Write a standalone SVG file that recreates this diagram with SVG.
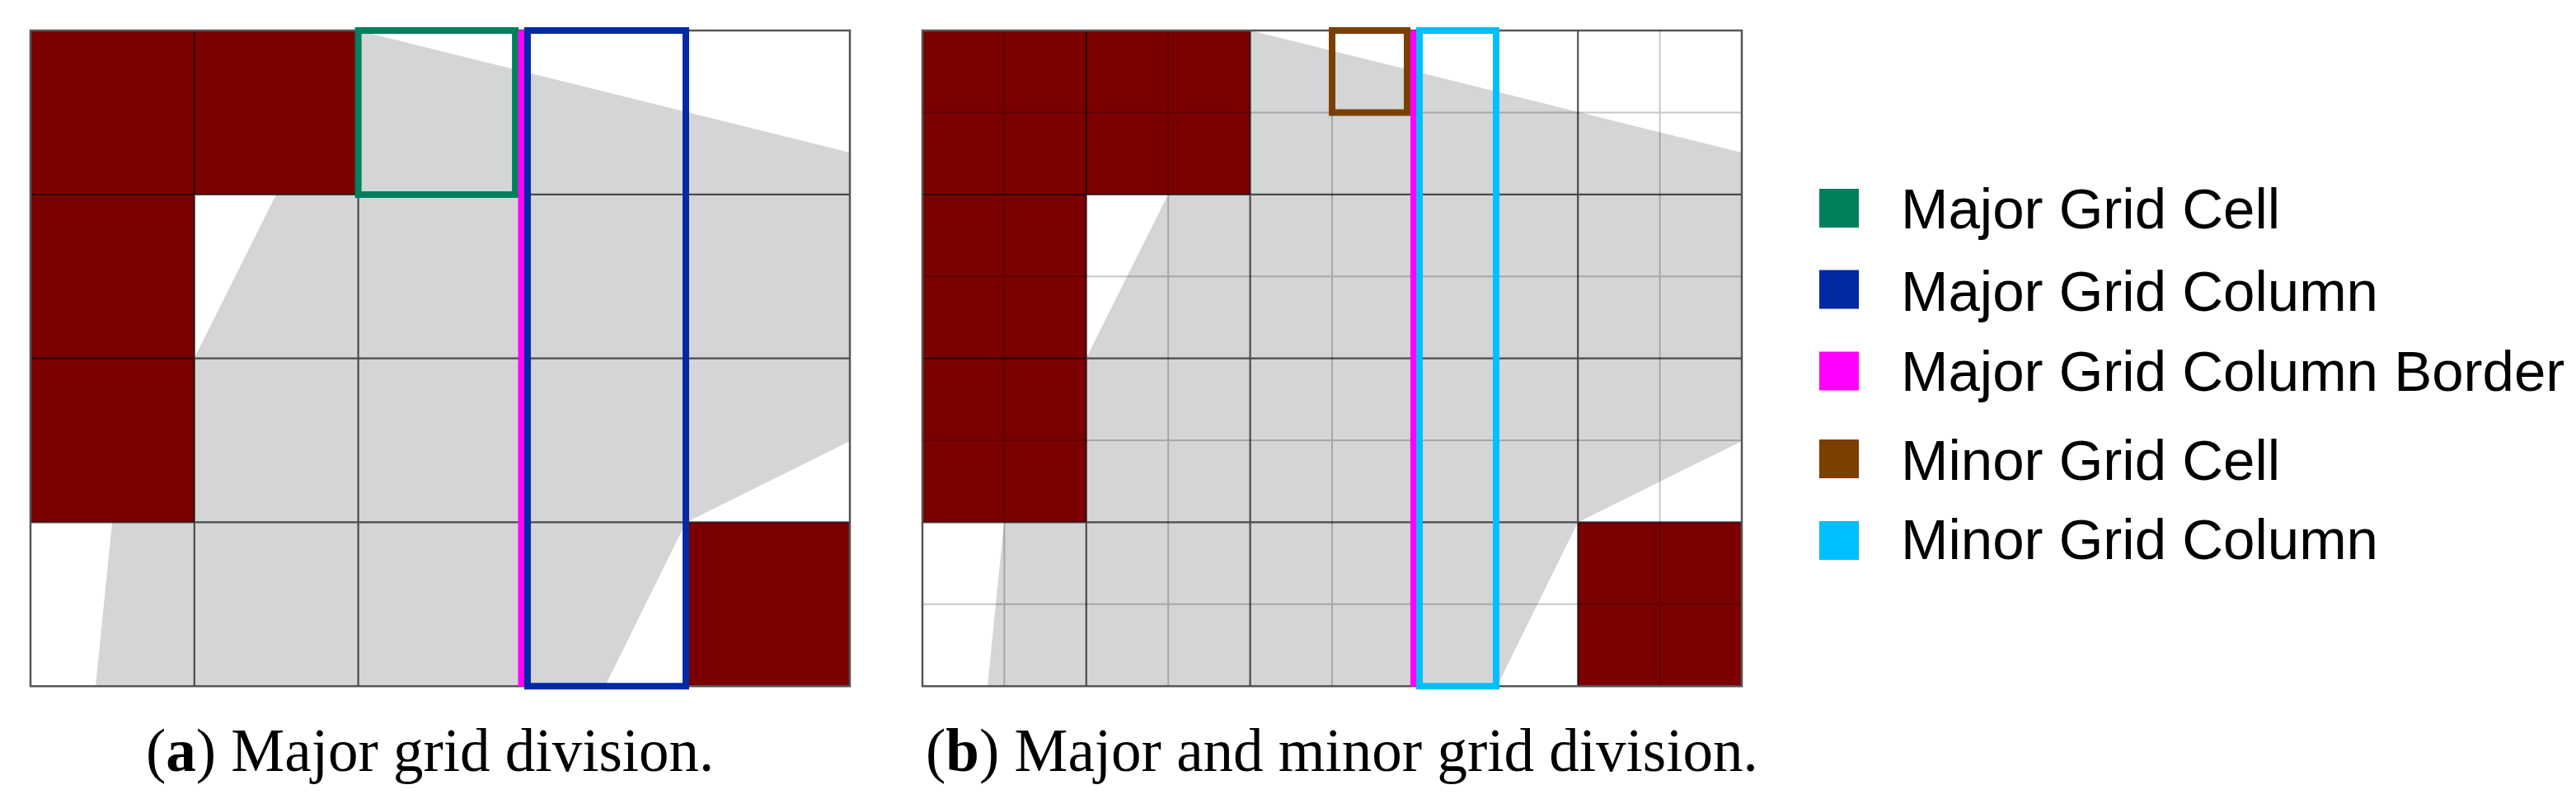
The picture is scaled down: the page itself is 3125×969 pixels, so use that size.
<svg xmlns="http://www.w3.org/2000/svg" width="3125" height="969" viewBox="0 0 3125 969">
<defs>
<style>
.bg{fill:#ffffff}
.shape{fill:#d4d5d7}
.red{fill:#7b0000}
.minor{stroke:#000;stroke-opacity:0.22;stroke-width:2;fill:none}
.major{stroke:#000;stroke-opacity:0.65;stroke-width:2.2;fill:none}
.border{stroke:#555;stroke-width:2.5;fill:none}
.hl{fill:none;stroke-width:8}
.legend{font-family:"Liberation Sans",Arial,sans-serif;font-size:69px;fill:#000}
.cap{font-family:"Liberation Serif","Times New Roman",serif;font-size:73px;fill:#000}
</style>
</defs>
<rect class="bg" x="0" y="0" width="3125" height="969"/>

<g id="panel-a">
  <polygon class="shape" points="434.6,37 1031,185 1031,535 832.2,633.4 734,832.2 116,832.2 136,633.4"/>
  <g id="a-red">
    <rect class="red" x="37" y="37" width="397.6" height="198.8"/>
    <rect class="red" x="37" y="235.8" width="198.8" height="397.6"/>
    <rect class="red" x="832.2" y="633.4" width="198.8" height="198.8"/>
  </g>
  <g id="a-grid" class="major">
    <path d="M235.8,37V832.2M434.6,37V832.2M633.4,37V832.2M832.2,37V832.2M37,235.8H1031M37,434.6H1031M37,633.4H1031"/>
  </g>
  <rect class="border" x="37" y="37" width="994" height="795.2"/>
  <rect id="a-major-cell" class="hl" stroke="#007f5f" x="434.6" y="37" width="190.5" height="199"/>
  <line id="a-border" x1="633" y1="37" x2="633" y2="832.2" stroke="#ff00ff" stroke-width="9"/>
  <rect id="a-major-column" class="hl" stroke="#0029a6" x="640" y="37" width="192" height="795.2"/>
</g>

<g id="panel-b">
  <polygon class="shape" points="1516.6,37 2113,185 2113,535 1914.2,633.4 1816,832.2 1198,832.2 1218,633.4"/>
  <g id="b-red">
    <rect class="red" x="1119" y="37" width="397.6" height="198.8"/>
    <rect class="red" x="1119" y="235.8" width="198.8" height="397.6"/>
    <rect class="red" x="1914.2" y="633.4" width="198.8" height="198.8"/>
  </g>
  <g id="b-minor" class="minor">
    <path d="M1218.4,37V832.2M1417.2,37V832.2M1616,37V832.2M1814.8,37V832.2M2013.6,37V832.2M1119,136.4H2113M1119,335.2H2113M1119,534H2113M1119,732.8H2113"/>
  </g>
  <g id="b-grid" class="major">
    <path d="M1317.8,37V832.2M1516.6,37V832.2M1715.4,37V832.2M1914.2,37V832.2M1119,235.8H2113M1119,434.6H2113M1119,633.4H2113"/>
  </g>
  <rect class="border" x="1119" y="37" width="994" height="795.2"/>
  <rect id="b-minor-cell" class="hl" stroke="#7b3f00" x="1616" y="37" width="91" height="99.5"/>
  <line id="b-border" x1="1715.4" y1="37" x2="1715.4" y2="832.2" stroke="#ff00ff" stroke-width="9"/>
  <rect id="b-minor-column" class="hl" stroke="#00bfff" x="1722" y="37" width="93" height="795.2"/>
</g>

<g id="legend">
  <g id="leg-1"><rect x="2207" y="229" width="48" height="47" fill="#007f5f"/><text class="legend" x="2306" y="277">Major Grid Cell</text></g>
  <g id="leg-2"><rect x="2207" y="327.5" width="48" height="47" fill="#0029a6"/><text class="legend" x="2306" y="377">Major Grid Column</text></g>
  <g id="leg-3"><rect x="2207" y="426.5" width="48" height="47" fill="#ff00ff"/><text class="legend" x="2306" y="473.5">Major Grid Column Border</text></g>
  <g id="leg-4"><rect x="2207" y="533" width="48" height="47" fill="#7b3f00"/><text class="legend" x="2306" y="582">Minor Grid Cell</text></g>
  <g id="leg-5"><rect x="2207" y="632" width="48" height="47" fill="#00bfff"/><text class="legend" x="2306" y="678">Minor Grid Column</text></g>
</g>

<g id="captions">
  <text class="cap" x="177" y="935">(<tspan font-weight="bold">a</tspan>) Major grid division.</text>
  <text class="cap" x="1123" y="935">(<tspan font-weight="bold">b</tspan>) Major and minor grid division.</text>
</g>
</svg>
